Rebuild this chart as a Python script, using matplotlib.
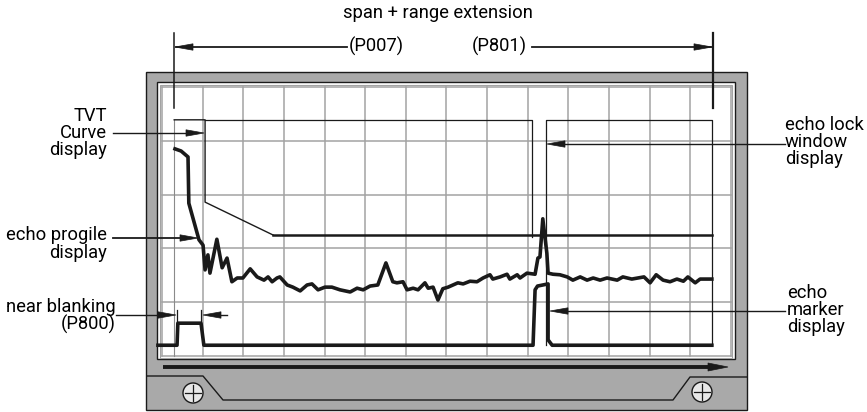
import matplotlib
matplotlib.use("Agg")
import matplotlib.pyplot as plt
from matplotlib import font_manager
from matplotlib.patches import Rectangle, Polygon, Circle
from matplotlib.transforms import Affine2D

# echo profile, in screen divisions (x: 14 across, y: 5 up)
echo_x = [0.32, 0.47, 0.64, 0.66, 0.91, 1.01, 1.06, 1.13, 1.18, 1.35, 1.48, 1.60, 1.72,
          1.85, 1.99, 2.17, 2.34, 2.51, 2.61, 2.71, 2.83, 2.90, 3.08, 3.22, 3.40, 3.57,
          3.69, 3.84, 4.01, 4.18, 4.38, 4.63, 4.80, 4.95, 5.12, 5.31, 5.51, 5.68, 5.78,
          5.93, 6.03, 6.18, 6.30, 6.47, 6.55, 6.67, 6.79, 6.91, 7.04, 7.16, 7.28, 7.41,
          7.58, 7.75, 7.90, 8.07, 8.14, 8.32, 8.49, 8.56, 8.74, 8.81, 8.98, 9.18, 9.25,
          9.30, 9.37, 9.47, 9.50, 9.62, 9.79, 9.97, 10.11, 10.29, 10.46, 10.61, 10.78,
          10.95, 11.20, 11.34, 11.56, 11.71, 11.86, 12.01, 12.16, 12.33, 12.50, 12.67,
          12.83, 12.94, 13.12, 13.24, 13.53]
echo_y = [3.85, 3.81, 3.70, 2.84, 2.16, 2.06, 1.60, 1.88, 1.54, 2.17, 1.64, 1.82, 1.38,
          1.45, 1.45, 1.62, 1.47, 1.41, 1.47, 1.38, 1.45, 1.47, 1.32, 1.28, 1.21, 1.32,
          1.34, 1.23, 1.28, 1.28, 1.23, 1.19, 1.26, 1.23, 1.30, 1.32, 1.73, 1.38, 1.36,
          1.38, 1.23, 1.26, 1.23, 1.36, 1.26, 1.28, 1.04, 1.25, 1.28, 1.32, 1.36, 1.34,
          1.39, 1.38, 1.45, 1.51, 1.43, 1.47, 1.52, 1.43, 1.51, 1.45, 1.54, 1.52, 1.82,
          1.84, 2.55, 1.91, 1.54, 1.52, 1.51, 1.47, 1.41, 1.47, 1.41, 1.45, 1.41, 1.45,
          1.41, 1.47, 1.43, 1.45, 1.47, 1.36, 1.51, 1.41, 1.38, 1.43, 1.39, 1.47, 1.36,
          1.43, 1.43]

# TVT curve
tvt_x = [0.30, 1.06, 1.06, 2.73, 13.53]
tvt_y = [4.39, 4.39, 2.86, 2.25, 2.25]

# echo lock window (left part closes at the echo, right part is the window box)
lock_left_x = [1.06, 9.10, 9.10]
lock_left_y = [4.39, 4.39, 2.21]
lock_right_x = [9.45, 9.45, 13.53, 13.53]
lock_right_y = [0.20, 4.39, 4.39, 0.20]

# echo marker trace (near blanking pulse + echo marker)
marker_x = [-0.10, 0.37, 0.39, 0.96, 1.03, 9.13, 9.18, 9.24, 9.50, 9.50, 9.60, 13.53]
marker_y = [0.20, 0.20, 0.61, 0.61, 0.20, 0.20, 1.23, 1.30, 1.34, 0.30, 0.20, 0.20]

blank_start, blank_end = 0.37, 0.96

# font: narrowest sans available
names = {f.name for f in font_manager.fontManager.ttflist}
fam = 'DejaVu Sans'
for cand in ['Liberation Sans Narrow', 'Roboto', 'Liberation Sans']:
    if cand in names:
        fam = cand
        break
plt.rcParams['font.family'] = [fam, 'DejaVu Sans']

W, H = 867, 412
fig = plt.figure(figsize=(W / 100, H / 100), dpi=100)
ax = fig.add_axes([0, 0, 1, 1])
ax.set_xlim(0, W)
ax.set_ylim(H, 0)
ax.axis('off')

# fit font size so the title is as wide as in the original (~191 px)
renderer = fig.canvas.get_renderer()
probe = ax.text(0, 0, 'span + range extension', fontsize=10)
wpx = probe.get_window_extent(renderer).width
probe.remove()
fs = min(14.5, 10 * 191 / wpx)

dark = '#1a1a1a'
bezel = '#a9a9a9'
gridc = '#a3a3a3'

# screen geometry (pixels)
gx0, gy0, dx, dy = 162, 356, 40.64, 53.8
scr = Affine2D().scale(dx, -dy).translate(gx0, gy0) + ax.transData

# bezel
ax.add_patch(Rectangle((146, 72), 601, 338, fc=bezel, ec=dark, lw=1.0, zorder=1))
ax.add_patch(Rectangle((157, 82), 578, 277, fc='white', ec=dark, lw=1.0, zorder=2))
ax.add_patch(Rectangle((160, 85), 572, 273, fc='none', ec=gridc, lw=0.8, zorder=2))

# grid
for i in range(15):
    ax.plot([i, i], [0, 5], color=gridc, lw=1.1, transform=scr, zorder=3)
for j in range(6):
    ax.plot([0, 14], [j, j], color=gridc, lw=1.1, transform=scr, zorder=3)

# lower panel of bezel
ax.plot([147, 203, 223, 673, 690, 747], [376, 376, 400, 400, 377, 377],
        color=dark, lw=1.0, zorder=4)
for cx, cy in [(193, 393), (702, 392)]:
    ax.add_patch(Circle((cx, cy), 10, fc='#e8e8e8', ec=dark, lw=1.0, zorder=5))
    ax.plot([cx - 8, cx + 8], [cy, cy], color=dark, lw=0.9, zorder=6)
    ax.plot([cx, cx], [cy - 8, cy + 8], color=dark, lw=0.9, zorder=6)


def head(x, y, d, L=18, w=3.2, z=8):
    # filled arrowhead, tip at (x, y), d=+1 points right, -1 left
    ax.add_patch(Polygon([(x, y), (x - d * L, y - w), (x - d * L, y + w)],
                         closed=True, fc=dark, ec=dark, lw=0.5, zorder=z))


# time arrow along bottom
ax.plot([163, 712], [367, 367], color=dark, lw=2.8, solid_capstyle='butt', zorder=5)
head(728, 367, 1, L=20, w=4)

# traces
ax.plot([0.30, 0.30], [0, 4.39], color='#8a8a8a', lw=0.8, transform=scr, zorder=4)
ax.plot(tvt_x[:4], tvt_y[:4], color=dark, lw=1.0, transform=scr, zorder=6)
ax.plot(tvt_x[3:], tvt_y[3:], color=dark, lw=1.8, transform=scr, zorder=6)
ax.plot(lock_left_x, lock_left_y, color=dark, lw=0.9, transform=scr, zorder=6)
ax.plot(lock_right_x, lock_right_y, color=dark, lw=0.9, transform=scr, zorder=6)
ax.plot(echo_x, echo_y, color=dark, lw=2.6, transform=scr, zorder=7,
        solid_joinstyle='round')
ax.plot(marker_x, marker_y, color=dark, lw=2.6, transform=scr, zorder=7,
        solid_joinstyle='round')
for bx in (blank_start, blank_end):
    ax.plot([bx, bx], [0.65, 0.86], color=dark, lw=0.9, transform=scr, zorder=7)

# span markers at top
ax.plot([174, 174], [33, 108], color=dark, lw=1.1, zorder=8)
ax.plot([713, 713], [33, 108], color=dark, lw=1.6, zorder=8)
ax.plot([176, 347], [47, 47], color=dark, lw=1.3, zorder=8)
head(175, 47, -1)
ax.plot([532, 711], [47, 47], color=dark, lw=1.3, zorder=8)
head(712, 47, 1)

ax.text(438, 13, 'span + range extension', ha='center', va='center', fontsize=fs)
ax.text(376, 46, '(P007)', ha='center', va='center', fontsize=fs)
ax.text(499, 46, '(P801)', ha='center', va='center', fontsize=fs)

# left annotations
ax.text(107, 133, 'TVT\nCurve\ndisplay', ha='right', va='center', fontsize=fs,
        multialignment='right', linespacing=0.95)
ax.plot([113, 190], [133, 133], color=dark, lw=1.0, zorder=8)
head(204, 133, 1)

ax.text(107, 244, 'echo progile\ndisplay', ha='right', va='center', fontsize=fs,
        multialignment='right', linespacing=0.95)
ax.plot([113, 185], [238, 238], color=dark, lw=1.3, zorder=8)
head(198, 238, 1)

ax.text(116, 316, 'near blanking\n(P800)', ha='right', va='center', fontsize=fs,
        multialignment='right', linespacing=0.95)
ax.plot([116, 162], [315, 315], color=dark, lw=1.0, zorder=8)
head(176, 315, 1)
ax.plot([215, 227], [315, 315], color=dark, lw=1.0, zorder=8)
head(203, 315, -1)

# right annotations
ax.text(785, 142, 'echo lock\nwindow\ndisplay', ha='left', va='center', fontsize=fs,
        linespacing=0.95)
ax.plot([560, 785], [144, 144], color=dark, lw=1.0, zorder=8)
head(547, 144, -1)

ax.text(787, 310, 'echo\nmarker\ndisplay', ha='left', va='center', fontsize=fs,
        linespacing=0.95)
ax.plot([563, 785], [311, 311], color=dark, lw=1.0, zorder=8)
head(550, 311, -1)

fig.savefig('out.png', dpi=100)
